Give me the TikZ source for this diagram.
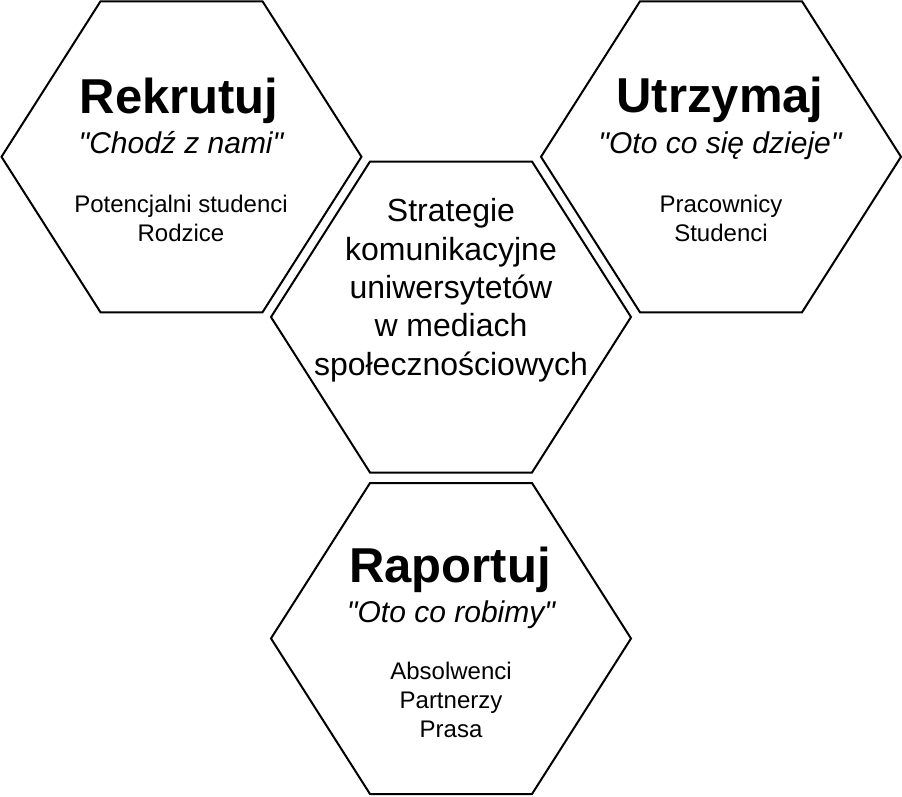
\documentclass[tikz,border=0pt]{standalone}
\usepackage{fontspec}
\setmainfont{Liberation Sans}[Ligatures=TeXOff]
\newcommand\hexat[3]{%
  \draw[hexline] (#1-180,#2) coordinate (#3-w) -- (#1-81,#2-155.5) coordinate (#3-nw)
    -- (#1+81,#2-155.5) coordinate (#3-ne) -- (#1+180,#2) coordinate (#3-e)
    -- (#1+81,#2+155.5) coordinate (#3-se) -- (#1-81,#2+155.5) coordinate (#3-sw) -- cycle;}
\begin{document}
\begin{tikzpicture}[x=1pt,y=-1pt,
  hexline/.style={draw=black, line width=2pt, line join=miter},
  titletxt/.style={font=\bfseries\fontsize{49}{58}\selectfont, anchor=base, inner sep=0pt},
  quotetxt/.style={font=\itshape\fontsize{30}{36}\selectfont, anchor=base, inner sep=0pt},
  smalltxt/.style={font=\fontsize{24}{29}\selectfont, anchor=base, inner sep=0pt},
  centertxt/.style={font=\fontsize{32}{38.4}\selectfont, anchor=base, inner sep=0pt}]
\useasboundingbox (0,0) rectangle (902,796);
\fill[white] (0,0) rectangle (902,796);
% hexagons
\hexat{181.5}{156.8}{tl}
\hexat{721}{156.8}{tr}
\hexat{451}{317}{c}
\hexat{451}{638.5}{b}
% top-left
\node[titletxt] (t1) at (179,113) {Rekrutuj};
\node[quotetxt] (q1) at (181,153) {"Chodź z nami"};
\node[smalltxt] (s1a) at (181,212) {Potencjalni studenci};
\node[smalltxt] (s1b) at (181,241) {Rodzice};
% top-right
\node[titletxt] (t2) at (720,112) {Utrzymaj};
\node[quotetxt] (q2) at (720,153) {"Oto co się dzieje"};
\node[smalltxt] (s2a) at (721,212) {Pracownicy};
\node[smalltxt] (s2b) at (721,241) {Studenci};
% center
\node[centertxt] (c1) at (451,221.7) {Strategie};
\node[centertxt] (c2) at (451,260.1) {komunikacyjne};
\node[centertxt] (c3) at (451,298.5) {uniwersytetów};
\node[centertxt] (c4) at (451,336.9) {w mediach};
\node[centertxt] (c5) at (451,375.3) {społecznościowych};
% bottom
\node[titletxt] (t3) at (450,582) {Raportuj};
\node[quotetxt] (q3) at (451,622) {"Oto co robimy"};
\node[smalltxt] (s3a) at (451,679) {Absolwenci};
\node[smalltxt] (s3b) at (451,708) {Partnerzy};
\node[smalltxt] (s3c) at (451,737) {Prasa};
\end{tikzpicture}
\end{document}
